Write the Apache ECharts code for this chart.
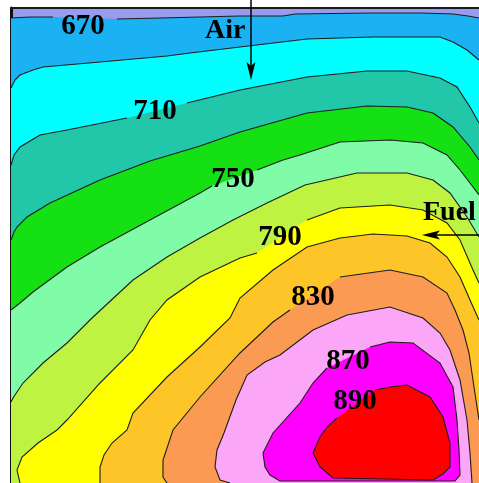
<!DOCTYPE html>
<html>
<head>
<meta charset="utf-8">
<script src="https://cdn.jsdelivr.net/npm/echarts@6/dist/echarts.min.js"></script>
<style>
  html, body { margin: 0; padding: 0; background: #ffffff; }
  #chart { width: 479px; height: 483px; }
</style>
</head>
<body>
<div id="chart"></div>
<script>
// Furnace cross-section, temperature field (isotherms every 20 degrees).
// Section size in mm; y measured downward from the top wall.
const X_MAX = 468;
const Y_MAX = 475;

const levels = [670, 690, 710, 730, 750, 770, 790, 810, 830, 850, 870, 890];

// fill colour below the first isotherm, then one colour per band above each level
const bandColors = ['#9a9aee', '#1ab2f2', '#00ffff', '#22c6a8', '#14e014', '#80fba8',
                    '#bef342', '#ffff00', '#fdc527', '#fb9a52', '#fca6f7', '#ff00ff', '#ff0000'];

// isotherm traces [x mm, y mm]; null marks a break where a level label sits
const iso670 = [[0,10],[19,9],[42,9],null,[106,11],[149,10],[189,9],[229,8],[272,8],[284,6],[359,5],[409,5],[442,6],[457,8],[468,10]];
const iso690 = [[0,80],[4,72],[9,67],[22,62],[32,59],[89,54],[156,48],[179,45],[229,39],[296,31],[362,29],[429,29],[442,34],[456,42],[468,52]];
const iso710 = [[0,157],[3,147],[9,139],[29,127],[56,122],[116,110],null,[176,95],[229,82],[296,69],[356,63],[396,63],[429,70],[446,79],[459,99],[468,115]];
const iso730 = [[0,232],[3,224],[6,219],[16,209],[39,195],[89,172],[139,153],[189,138],[229,124],[296,105],[356,98],[396,99],[422,105],[442,119],[459,139],[468,152]];
const iso750 = [[0,302],[9,295],[22,284],[56,259],[89,239],[139,212],[189,185],[201,178],null,[246,162],[272,152],[289,147],[329,134],[379,132],[412,135],[436,147],[449,162],[462,179],[468,187]];
const iso770 = [[0,394],[2,390],[12,375],[32,355],[56,335],[81,310],[122,272],[156,249],[189,230],[222,212],[256,195],[294,177],[346,165],[396,165],[422,172],[439,185],[456,209],[468,229]];
const iso790 = [[9,475],[6,462],[11,449],[27,435],[46,422],[56,412],[89,375],[122,342],[139,312],[156,292],[189,269],[229,250],[246,245],null,[296,212],[329,200],[379,197],[412,202],[436,215],[449,232],[462,262],[468,275]];
const iso810 = [[89,475],[89,459],[93,447],[101,435],[116,422],[122,405],[156,369],[189,339],[219,310],[229,290],[262,262],[296,239],[329,230],[362,226],[396,228],[419,235],[436,249],[449,269],[459,292],[468,312]];
const iso830 = [[156,475],[152,469],[152,452],[162,422],[189,389],[229,345],[262,314],[279,302],null,[329,269],[379,262],[412,269],[436,285],[444,302],[452,322],[458,345],[463,379],[468,412]];
const iso850 = [[219,475],[209,472],[204,459],[206,442],[213,425],[225,392],[236,367],[254,354],[269,347],[302,322],[336,307],[379,299],[412,310],[429,325],[439,342],[449,372],[456,412],[459,445],[461,475]];
const iso870 = [[269,473],[259,467],[254,459],[252,445],[262,425],[289,395],[302,375],[316,360],null,[359,339],[379,334],[402,335],[429,355],[442,379],[446,412],[448,442],[449,467],[444,473],[269,473]];
const iso890 = [[316,419],[326,410],null,[364,382],[379,379],[396,377],[419,389],[432,409],[439,435],[439,459],[432,466],[422,472],[322,470],[309,459],[302,445],[309,429],[316,419]];

const isotherms = [iso670, iso690, iso710, iso730, iso750, iso770, iso790, iso810, iso830, iso850, iso870, iso890];

// level labels: value and centre position [x mm, y mm]
const labelValues = [670, 710, 750, 790, 830, 870, 890];
const labelPositions = [[72,19],[144,104],[222,172],[269,230],[302,290],[337,354],[344,394]];

// inlet annotations
const inletNames = ['Air', 'Fuel'];
const inletTextPos = [[194,37],[412,219]];          // left end of text baseline
const inletArrows = [[[240,-8],[240,72]], [[468,227],[411,227]]]; // tail -> tip

// region on the hot side of an isotherm, closed along the bottom/right walls
function hotRegion(path) {
  const pts = path.filter(p => p !== null);
  const a = pts[0], b = pts[pts.length - 1];
  if (a[0] === b[0] && a[1] === b[1]) return pts;
  const out = pts.concat([[X_MAX, Y_MAX]]);
  if (a[0] <= 0) out.push([0, Y_MAX]);
  return out;
}

function splitRuns(path) {
  const runs = [];
  let cur = [];
  path.forEach(p => {
    if (p === null) { if (cur.length > 1) runs.push(cur); cur = []; }
    else cur.push(p);
  });
  if (cur.length > 1) runs.push(cur);
  return runs;
}

const chart = echarts.init(document.getElementById('chart'), null, { renderer: 'canvas' });

const labelFont = 'bold 29px "Liberation Serif", "Times New Roman", serif';

chart.setOption({
  animation: false,
  backgroundColor: '#ffffff',
  grid: {
    left: 11, top: 8, right: 0, bottom: 0,
    show: true, backgroundColor: bandColors[0], borderWidth: 0
  },
  xAxis: {
    type: 'value', min: 0, max: X_MAX, position: 'top',
    axisLine: { show: true, onZero: false, lineStyle: { color: '#1a1a1a', width: 2 } },
    axisTick: { show: false }, axisLabel: { show: false }, splitLine: { show: false }
  },
  yAxis: {
    type: 'value', min: 0, max: Y_MAX, inverse: true,
    axisLine: { show: true, onZero: false, lineStyle: { color: '#111111', width: 3 } },
    axisTick: { show: false }, axisLabel: { show: false }, splitLine: { show: false }
  },
  series: [
    {
      name: 'bands',
      type: 'custom',
      coordinateSystem: 'cartesian2d',
      clip: true,
      silent: true,
      z: 1,
      data: levels.map((lv, i) => [0, 0, lv]),
      renderItem: function (params, api) {
        const i = params.dataIndex;
        const pts = hotRegion(isotherms[i]).map(p => api.coord(p));
        return {
          type: 'polygon',
          shape: { points: pts },
          style: { fill: bandColors[i + 1], stroke: null }
        };
      }
    },
    {
      name: 'isotherms',
      type: 'custom',
      coordinateSystem: 'cartesian2d',
      clip: true,
      silent: true,
      z: 2,
      data: levels.map((lv, i) => [0, 0, lv]),
      renderItem: function (params, api) {
        const runs = splitRuns(isotherms[params.dataIndex]);
        return {
          type: 'group',
          children: runs.map(run => ({
            type: 'polyline',
            shape: { points: run.map(p => api.coord(p)) },
            style: { fill: null, stroke: '#1e1e1e', lineWidth: 1.1 }
          }))
        };
      }
    },
    {
      name: 'levelLabels',
      type: 'custom',
      coordinateSystem: 'cartesian2d',
      clip: false,
      silent: true,
      z: 3,
      data: labelPositions.map((p, i) => [p[0], p[1], labelValues[i]]),
      renderItem: function (params, api) {
        const c = api.coord([api.value(0), api.value(1)]);
        return {
          type: 'text',
          x: c[0], y: c[1],
          style: {
            text: String(api.value(2)),
            font: labelFont,
            fill: '#000000',
            align: 'center',
            verticalAlign: 'middle'
          }
        };
      }
    },
    {
      name: 'inlets',
      type: 'custom',
      coordinateSystem: 'cartesian2d',
      clip: false,
      silent: true,
      z: 4,
      data: inletNames.map((n, i) => [inletTextPos[i][0], inletTextPos[i][1], i]),
      renderItem: function (params, api) {
        const i = params.dataIndex;
        const t = api.coord(inletTextPos[i]);
        const tail = api.coord(inletArrows[i][0]);
        const tip = api.coord(inletArrows[i][1]);
        const dx = tip[0] - tail[0], dy = tip[1] - tail[1];
        const len = Math.sqrt(dx * dx + dy * dy);
        const ux = dx / len, uy = dy / len;      // along the arrow
        const nx = -uy, ny = ux;                 // across the arrow
        const headLen = 18, headHalf = 4.5, notch = 4;
        const base = [tip[0] - ux * headLen, tip[1] - uy * headLen];
        const head = [
          tip,
          [base[0] + nx * headHalf, base[1] + ny * headHalf],
          [base[0] + ux * notch, base[1] + uy * notch],
          [base[0] - nx * headHalf, base[1] - ny * headHalf]
        ];
        return {
          type: 'group',
          children: [
            {
              type: 'line',
              shape: { x1: tail[0], y1: tail[1], x2: base[0] + ux * notch, y2: base[1] + uy * notch },
              style: { stroke: '#000000', lineWidth: 1.5 }
            },
            { type: 'polygon', shape: { points: head }, style: { fill: '#000000' } },
            {
              type: 'text',
              x: t[0], y: t[1],
              style: {
                text: inletNames[i],
                font: 'bold 28px "Liberation Serif", "Times New Roman", serif',
                fill: '#000000',
                align: 'left',
                verticalAlign: 'bottom'
              }
            }
          ]
        };
      }
    }
  ]
});
</script>
</body>
</html>
